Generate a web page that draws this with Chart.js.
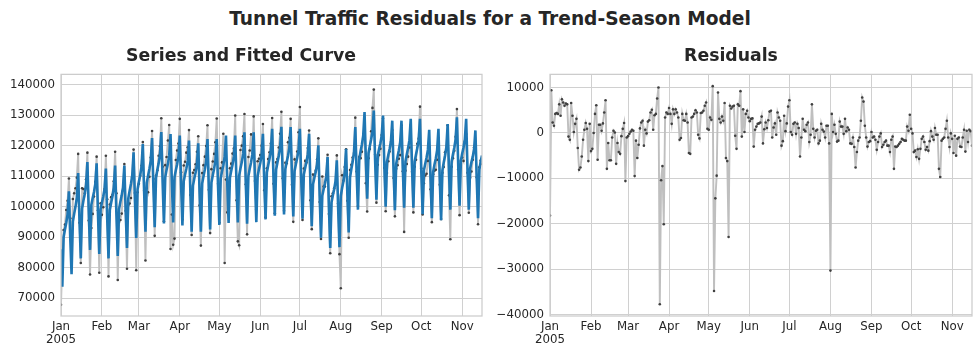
<!DOCTYPE html>
<html>
<head>
<meta charset="utf-8">
<script src="https://cdn.jsdelivr.net/npm/chart.js@4/dist/chart.umd.min.js"></script>
<style>
html,body{margin:0;padding:0;background:#ffffff;}
#wrap{position:relative;width:980px;height:357px;overflow:hidden;background:#ffffff;}
#sup{position:absolute;left:0;top:7px;width:980px;text-align:center;font-family:"DejaVu Sans";font-weight:bold;font-size:18.6px;line-height:24px;color:#262626;white-space:nowrap;}
.pane{position:absolute;top:0;width:490px;height:357px;}
</style>
</head>
<body>
<div id="wrap">
  <div id="sup">Tunnel Traffic Residuals for a Trend-Season Model</div>
  <div class="pane" style="left:0"><canvas id="c1" width="490" height="357"></canvas></div>
  <div class="pane" style="left:490px"><canvas id="c2" width="490" height="357"></canvas></div>
</div>
<script>
// ---- data (daily, starting 2005-01-01) ----
const startDate = '2005-01-01';
const monthLabels = ['Jan','Feb','Mar','Apr','May','Jun','Jul','Aug','Sep','Oct','Nov'];
const yearLabel = '2005';
const seriesTicks = [70000, 80000, 90000, 100000, 110000, 120000, 130000, 140000];
const residualTicks = [-40000, -30000, -20000, -10000, 0, 10000];

// observed number of vehicles
const series = [
  67800,
  83100, 92300, 94100, 98900, 101900, 109200, 96200,
  81600, 102500, 104400, 106000, 109500, 117300, 94700,
  81500, 106000, 105800, 104400, 109000, 117700, 95400,
  77700, 93000, 97600, 103300, 108100, 116400, 98800,
  78300, 101100, 97300, 99800, 105800, 116700, 102400,
  77100, 100700, 103100, 103900, 108300, 118000, 104400,
  75900, 97000, 95600, 97700, 105400, 114000, 98600,
  79600, 100500, 101000, 102800, 109600, 118700, 104500,
  79100, 104700, 107500, 110100, 113400, 121200, 105200,
  82300, 106100, 104700, 109800, 116100, 124800, 109100,
  90400, 110200, 111900, 116700, 119800, 129000, 113100,
  95200, 113600, 116300, 121700, 126800, 86100, 97400,
  87500, 89500, 115300, 118400, 120700, 128800, 111300,
  95800, 113500, 114700, 117700, 119500, 125100, 103800,
  90700, 111100, 112000, 113900, 118000, 123100, 100400,
  87200, 111000, 113600, 116400, 119900, 126700, 105500,
  91300, 112300, 114800, 117300, 121100, 128900, 107500,
  94700, 112600, 114500, 123900, 81500, 108900, 98100,
  103500, 112600, 114100, 117400, 119100, 129900, 102100,
  88600, 87300, 118600, 120000, 123100, 130400, 107300,
  90900, 116300, 118400, 123700, 116400, 129600, 108400,
  99100, 114900, 115700, 116900, 120000, 127100, 105400,
  96500, 112600, 115600, 117800, 120700, 129100, 107500,
  97800, 114500, 115600, 119400, 123900, 131100, 109300,
  98600, 114400, 114200, 121100, 122600, 128800, 107200,
  95000, 115500, 114400, 118100, 124400, 132700, 109500,
  95600, 112500, 115000, 114500, 119200, 125000, 102100,
  92600, 110500, 110200, 111800, 115500, 122400, 101500,
  89400, 109900, 106600, 106600, 110400, 117000, 97600,
  84700, 103400, 104400, 106000, 107300, 116800, 101100,
  84400, 73200, 110300, 108500, 113000, 118800, 101900,
  89800, 112000, 113700, 116100, 117600, 129200, 111500,
  100200, 116300, 115900, 118000, 122300, 127900, 107700,
  98400, 115900, 118900, 124700, 132400, 138400, 117000,
  101300, 113700, 116900, 119000, 123500, 128900, 112700,
  98500, 111000, 114900, 118100, 121300, 125100, 109400,
  96800, 112400, 113600, 115700, 116900, 126700, 111600,
  91700, 111800, 114000, 116400, 119400, 126800, 111400,
  98100, 113100, 115400, 120600, 122300, 132800, 112600,
  97400, 107700, 110200, 110800, 115000, 119500, 105700,
  94900, 110600, 111800, 112100, 115400, 121600, 107200,
  95900, 111100, 113000, 117800, 119100, 126700, 103700,
  89300, 113100, 115900, 118300, 122900, 132000, 112300,
  97200, 115000, 116100, 115000, 121400, 123800, 111100,
  98000, 109500, 111500, 115400, 119500, 120900, 109600,
  94200, 112900, 115100, 114000
];

// fitted trend-season curve
const fitted = [
  86000,
  73700, 90000, 92500, 94700, 97500, 105000, 89900,
  77800, 95100, 97700, 100000, 103000, 111000, 95500,
  83000, 99400, 102000, 104200, 107000, 114600, 98700,
  85800, 100600, 102800, 104800, 107400, 114200, 97900,
  84500, 99100, 101300, 103300, 105800, 112500, 96300,
  83000, 98900, 101300, 103400, 106200, 113500, 97200,
  83800, 99200, 101600, 103700, 106400, 113500, 98500,
  86400, 102700, 105200, 107400, 110300, 117800, 102300,
  89700, 105700, 108200, 110300, 113100, 120500, 104700,
  91800, 107800, 110200, 112400, 115100, 122500, 106400,
  93200, 109500, 112000, 114200, 117000, 124500, 108000,
  94500, 109700, 112100, 114100, 116800, 123800, 107800,
  94800, 109600, 111900, 113900, 116500, 123300, 107100,
  93800, 108300, 110500, 112500, 115000, 121700, 105300,
  91800, 106900, 109200, 111200, 113800, 120800, 104800,
  91800, 107600, 110000, 112200, 114900, 122200, 105900,
  92500, 107900, 110300, 112400, 115100, 122200, 106600,
  94000, 109200, 111600, 113600, 116300, 123300, 107500,
  94600, 109500, 111800, 113800, 116400, 123300, 107600,
  94800, 110200, 112600, 114600, 117300, 124400, 107900,
  94400, 110000, 112400, 114500, 117200, 124400, 108200,
  94900, 110000, 112300, 114300, 116900, 123900, 108400,
  95800, 111200, 113600, 115700, 118400, 125500, 109800,
  97000, 112200, 114500, 116600, 119200, 126200, 110300,
  97400, 112300, 114600, 116600, 119200, 126100, 110000,
  96800, 111700, 114000, 116000, 118600, 125500, 109300,
  96000, 110500, 112700, 114700, 117200, 123900, 107300,
  93600, 107400, 109500, 111400, 113700, 120100, 103500,
  89800, 103600, 105700, 107600, 109900, 116300, 99900,
  86400, 101400, 103700, 105700, 108300, 115200, 99500,
  86700, 103500, 106100, 108300, 111200, 119000, 103800,
  91500, 109500, 112300, 114700, 117800, 126100, 111100,
  99000, 115600, 118200, 120400, 123300, 131000, 115300,
  102600, 117600, 119900, 122000, 124600, 131500, 115400,
  102300, 116700, 118900, 120800, 123300, 129900, 113500,
  100000, 114700, 116900, 118900, 121400, 128200, 112000,
  98800, 114100, 116400, 118500, 121100, 128200, 112400,
  99600, 114800, 117100, 119200, 121800, 128800, 112700,
  99600, 114800, 117100, 119200, 121800, 128800, 111700,
  97500, 111900, 114100, 116100, 118600, 125200, 109200,
  96200, 111400, 113800, 115800, 118500, 125500, 109000,
  95500, 111900, 114500, 116700, 119500, 127100, 111600,
  99000, 114800, 117200, 119300, 122000, 129300, 113300,
  100300, 115100, 117400, 119400, 122000, 128800, 112400,
  99000, 112500, 114600, 116400, 118800, 125000, 109100,
  96200, 112200, 114700, 116800
];

// residuals (series minus fitted curve)
const residuals = [
  -18200,
  9400, 2300, 1600, 4200, 4400, 4200, 6300,
  3800, 7400, 6700, 6000, 6500, 6300, -800,
  -1500, 6600, 3800, 200, 2000, 3100, -3300,
  -8100, -7600, -5200, -1500, 700, 2200, 900,
  -6200, 2000, -4000, -3500, 0, 4200, 6100,
  -5900, 1800, 1800, 500, 2100, 4500, 7200,
  -7900, -2200, -6000, -6000, -1000, 500, 100,
  -6800, -2200, -4200, -4600, -700, 900, 2200,
  -10600, -1000, -700, -200, 300, 700, 500,
  -9500, -1700, -5500, -2600, 1000, 2300, 2700,
  -2800, 700, -100, 2500, 2800, 4500, 5100,
  700, 3900, 4200, 7600, 10000, -37700, -10400,
  -7300, -20100, 3400, 4500, 4200, 5500, 4200,
  2000, 5200, 4200, 5200, 4500, 3400, -1500,
  -1100, 4200, 2800, 2700, 4200, 2300, -4400,
  -4600, 3400, 3600, 4200, 5000, 4500, -400,
  -1200, 4400, 4500, 4900, 6000, 6700, 900,
  700, 3400, 2900, 10300, -34800, -14400, -9400,
  8900, 3100, 2300, 3600, 2700, 6600, -5500,
  -6200, -22900, 6000, 5400, 5800, 6000, -600,
  -3500, 6300, 6000, 9200, -800, 5200, 200,
  4200, 4900, 3400, 2600, 3100, 3200, -3000,
  700, 1400, 2000, 2100, 2300, 3600, -2300,
  800, 2300, 1100, 2800, 4700, 4900, -1000,
  1200, 2100, -400, 4500, 3400, 2700, -2800,
  -1800, 3800, 400, 2100, 5800, 7200, 200,
  -400, 2000, 2300, -200, 2000, 1100, -5200,
  -1000, 3100, 700, 400, 1800, 2300, -2000,
  -400, 6300, 900, -1000, 500, 700, -2300,
  -1700, 2000, 700, 300, -1000, 1600, 1600,
  -2300, -30300, 4200, 200, 1800, -200, -1900,
  -1700, 2500, 1400, 1400, -200, 3100, 400,
  1200, 700, -2300, -2400, -1000, -3100, -7600,
  -4200, -1700, -1000, 2700, 7800, 6900, 1600,
  -1000, -3000, -2000, -1800, 200, -1000, -800,
  -1500, -3700, -2000, -800, -100, -3100, -2600,
  -2000, -1700, -2800, -2800, -4200, -1500, -800,
  -7900, -3000, -3100, -2800, -2400, -2000, -1300,
  -1500, -1700, -1700, 1400, 500, 4000, 900,
  -100, -4200, -3900, -5300, -3600, -5700, -3500,
  -1300, -800, -2000, -3700, -3100, -3900, -1800,
  400, -800, -1500, 1100, -400, -400, -7900,
  -9700, -1700, -1300, -1000, 900, 2700, -1000,
  -3100, -100, -1300, -4400, -600, -5000, -1300,
  -1000, -3000, -3100, -1000, 700, -4100, 500,
  -2000, 700, 400, -2800
];

// ---- helpers ----
const day0 = Date.parse(startDate);
const monthStarts = monthLabels.map((m, i) => Math.round((Date.UTC(2005, i, 1) - day0) / 864e5));
const toPoints = arr => arr.map((v, i) => ({ x: i, y: v }));
const lastDay = series.length - 1;

const TEXT = '#262626';
const GRID = '#d0d0d0';
const FONT = 'DejaVu Sans';

const framePlugin = {
  id: 'frame',
  afterDatasetsDraw(chart) {
    const a = chart.chartArea, c = chart.ctx;
    c.save();
    c.strokeStyle = '#cccccc';
    c.lineWidth = 1.25;
    c.strokeRect(a.left, a.top, a.right - a.left, a.bottom - a.top);
    c.restore();
  }
};

function fmt(v) {
  return v < 0 ? '\u2212' + String(-v) : String(v);
}

function makeOptions(title, yTicks, ymin, ymax, yWidth) {
  return {
    responsive: false,
    animation: false,
    devicePixelRatio: 1,
    layout: { padding: { top: 36, left: 0, right: 8, bottom: 0 } },
    plugins: {
      legend: { display: false },
      tooltip: { enabled: false },
      title: {
        display: true,
        text: title,
        color: TEXT,
        font: { family: FONT, size: 17.3, weight: 'bold', lineHeight: 1.2 },
        padding: { top: 10, bottom: 7.6 }
      }
    },
    scales: {
      x: {
        type: 'linear',
        min: 0,
        max: lastDay,
        grid: { color: GRID, lineWidth: 1, drawTicks: false },
        border: { display: false },
        afterBuildTicks: s => { s.ticks = monthStarts.map(v => ({ value: v })); },
        afterFit: s => { s.height = 41; },
        ticks: {
          padding: 4,
          color: TEXT,
          autoSkip: false,
          maxRotation: 0,
          font: { family: FONT, size: 11.8, lineHeight: 1.15 },
          callback: v => {
            const i = monthStarts.indexOf(v);
            if (i < 0) return '';
            return i === 0 ? [monthLabels[0], yearLabel] : monthLabels[i];
          }
        }
      },
      y: {
        min: ymin,
        max: ymax,
        grid: { color: GRID, lineWidth: 1, drawTicks: false },
        border: { display: false },
        afterBuildTicks: s => { s.ticks = yTicks.map(v => ({ value: v })); },
        afterFit: s => { s.width = yWidth; },
        ticks: {
          padding: 6,
          color: TEXT,
          font: { family: FONT, size: 11.8 },
          callback: v => fmt(v)
        }
      }
    }
  };
}

new Chart(document.getElementById('c1'), {
  type: 'line',
  data: {
    datasets: [
      {
        label: 'Fitted',
        data: toPoints(fitted),
        borderColor: '#1f77b4',
        borderWidth: 2.6,
        pointRadius: 0,
        tension: 0,
        order: 0
      },
      {
        label: 'Series',
        data: toPoints(series),
        borderColor: '#bfbfbf',
        borderWidth: 1.9,
        pointRadius: 1.3,
        pointBackgroundColor: '#404040',
        pointBorderWidth: 0,
        tension: 0,
        order: 1
      }
    ]
  },
  options: makeOptions('Series and Fitted Curve', seriesTicks, 64100, 143400, 61),
  plugins: [framePlugin]
});

new Chart(document.getElementById('c2'), {
  type: 'line',
  data: {
    datasets: [
      {
        label: 'Residuals',
        data: toPoints(residuals),
        borderColor: '#bfbfbf',
        borderWidth: 1.9,
        pointRadius: 1.3,
        pointBackgroundColor: '#404040',
        pointBorderWidth: 0,
        tension: 0
      }
    ]
  },
  options: makeOptions('Residuals', residualTicks, -40300, 12900, 60),
  plugins: [framePlugin]
});
</script>
</body>
</html>
